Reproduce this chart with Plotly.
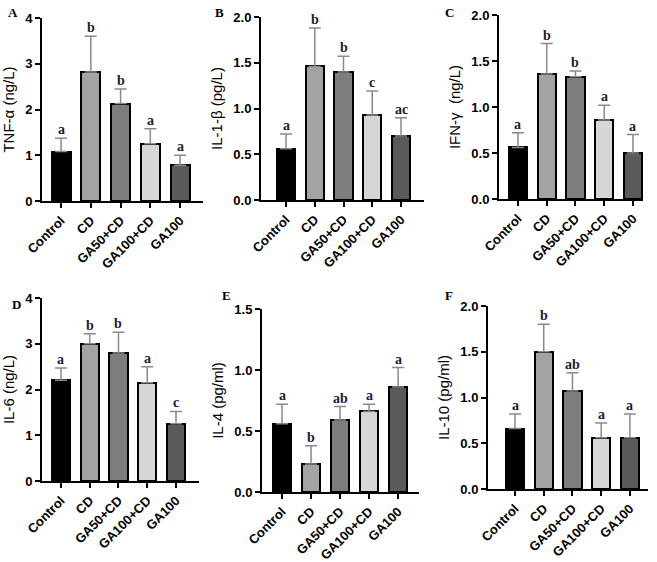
import plotly.graph_objects as go

categories = ["Control", "CD", "GA50+CD", "GA100+CD", "GA100"]
bar_colors = ["#000000", "#a3a3a3", "#7d7d7d", "#d6d6d6", "#5a5a5a"]

panel_letters = ["A", "B", "C", "D", "E", "F"]
y_titles = ["TNF-α (ng/L)", "IL-1-β (pg/L)", "IFN-γ  (ng/L)", "IL-6 (ng/L)", "IL-4 (pg/ml)", "IL-10 (pg/ml)"]

tnf_mean = [1.08, 2.82, 2.13, 1.25, 0.78]
tnf_upper = [1.37, 3.60, 2.45, 1.58, 1.00]
tnf_sig = ["a", "b", "b", "a", "a"]

il1b_mean = [0.56, 1.46, 1.40, 0.93, 0.70]
il1b_upper = [0.72, 1.88, 1.57, 1.19, 0.90]
il1b_sig = ["a", "b", "b", "c", "ac"]

ifng_mean = [0.56, 1.36, 1.33, 0.86, 0.50]
ifng_upper = [0.72, 1.69, 1.39, 1.02, 0.70]
ifng_sig = ["a", "b", "b", "a", "a"]

il6_mean = [2.20, 3.00, 2.80, 2.15, 1.25]
il6_upper = [2.47, 3.22, 3.25, 2.50, 1.52]
il6_sig = ["a", "b", "b", "a", "c"]

il4_mean = [0.56, 0.23, 0.59, 0.66, 0.86]
il4_upper = [0.72, 0.38, 0.70, 0.72, 1.02]
il4_sig = ["a", "b", "ab", "a", "a"]

il10_mean = [0.66, 1.50, 1.07, 0.56, 0.56]
il10_upper = [0.82, 1.80, 1.27, 0.72, 0.82]
il10_sig = ["a", "b", "ab", "a", "a"]

y_ticks = [
    [0, 1, 2, 3, 4],
    [0.0, 0.5, 1.0, 1.5, 2.0],
    [0.0, 0.5, 1.0, 1.5, 2.0],
    [0, 1, 2, 3, 4],
    [0.0, 0.5, 1.0, 1.5],
    [0.0, 0.5, 1.0, 1.5, 2.0],
]
y_ticktext = [
    ["0", "1", "2", "3", "4"],
    ["0.0", "0.5", "1.0", "1.5", "2.0"],
    ["0.0", "0.5", "1.0", "1.5", "2.0"],
    ["0", "1", "2", "3", "4"],
    ["0.0", "0.5", "1.0", "1.5"],
    ["0.0", "0.5", "1.0", "1.5", "2.0"],
]

means = [tnf_mean, il1b_mean, ifng_mean, il6_mean, il4_mean, il10_mean]
uppers = [tnf_upper, il1b_upper, ifng_upper, il6_upper, il4_upper, il10_upper]
sigs = [tnf_sig, il1b_sig, ifng_sig, il6_sig, il4_sig, il10_sig]

W, H = 657, 562
# layout in pixels: (x_left, x_right, y_top, y_bottom, x_range)
panels = [
    (42, 203, 18, 201, [-0.64, 4.77]),
    (261, 424, 17, 200, [-0.87, 4.80]),
    (499, 643, 15, 199, [-0.66, 4.35]),
    (42, 199, 298, 481, [-0.66, 4.80]),
    (262, 419, 309, 492, [-0.69, 4.72]),
    (488, 648, 306, 489, [-0.94, 4.63]),
]
letter_pos = [(6, 12), (213, 12), (443, 12), (10, 304), (220, 295), (443, 295)]

fig = go.Figure()
xs = list(range(len(categories)))
annotations = []
for i in range(6):
    ax = "" if i == 0 else str(i + 1)
    err = [u - m for u, m in zip(uppers[i], means[i])]
    fig.add_trace(go.Bar(
        x=xs, y=means[i], width=0.64,
        marker=dict(color=bar_colors, line=dict(color="black", width=2)),
        error_y=dict(type="data", array=err, arrayminus=[0] * 5, symmetric=False,
                     color="#8a8a8a", thickness=1.5, width=6),
        xaxis="x" + ax, yaxis="y" + ax, showlegend=False,
    ))
    xl, xr, yt, yb, xr_range = panels[i]
    fig.layout["xaxis" + ax] = dict(
        domain=[xl / W, xr / W], range=xr_range, anchor="y" + ax, automargin=False,
        tickvals=xs, ticktext=categories, tickangle=-45,
        showline=True, linecolor="black", linewidth=2,
        ticks="outside", ticklen=5, tickwidth=2, tickcolor="black",
        tickfont=dict(family="Liberation Sans", size=13, color="black", weight="bold"),
        showgrid=False, zeroline=False, fixedrange=True,
    )
    fig.layout["yaxis" + ax] = dict(
        domain=[1 - yb / H, 1 - yt / H], range=[0, y_ticks[i][-1]], anchor="x" + ax, automargin=False,
        tickvals=y_ticks[i], ticktext=y_ticktext[i],
        showline=True, linecolor="black", linewidth=2,
        ticks="outside", ticklen=5, tickwidth=2, tickcolor="black",
        tickfont=dict(family="Liberation Sans", size=13, color="black", weight="bold"),
        title=dict(text=y_titles[i], font=dict(family="Liberation Sans", size=15, color="black"), standoff=7),
        showgrid=False, zeroline=False, fixedrange=True,
    )
    for j in range(5):
        annotations.append(dict(
            x=xs[j], y=uppers[i][j], xref="x" + ax, yref="y" + ax,
            text=sigs[i][j], showarrow=False, yanchor="bottom", yshift=-1,
            font=dict(family="Liberation Serif", size=14, color="#1c1c3a", weight="bold"),
        ))
    lx, ly = letter_pos[i]
    annotations.append(dict(
        x=lx / W, y=1 - ly / H, xref="paper", yref="paper", text=panel_letters[i],
        showarrow=False, xanchor="left", yanchor="middle",
        font=dict(family="Liberation Serif", size=13, color="black", weight="bold"),
    ))

fig.update_layout(
    width=W, height=H, margin=dict(l=0, r=0, t=0, b=0),
    paper_bgcolor="white", plot_bgcolor="white",
    annotations=annotations, bargap=0,
)
fig.write_html(
    "out.html",
    config={"displayModeBar": False},
    post_script="document.body.style.margin='0';document.body.style.overflow='hidden';",
)
